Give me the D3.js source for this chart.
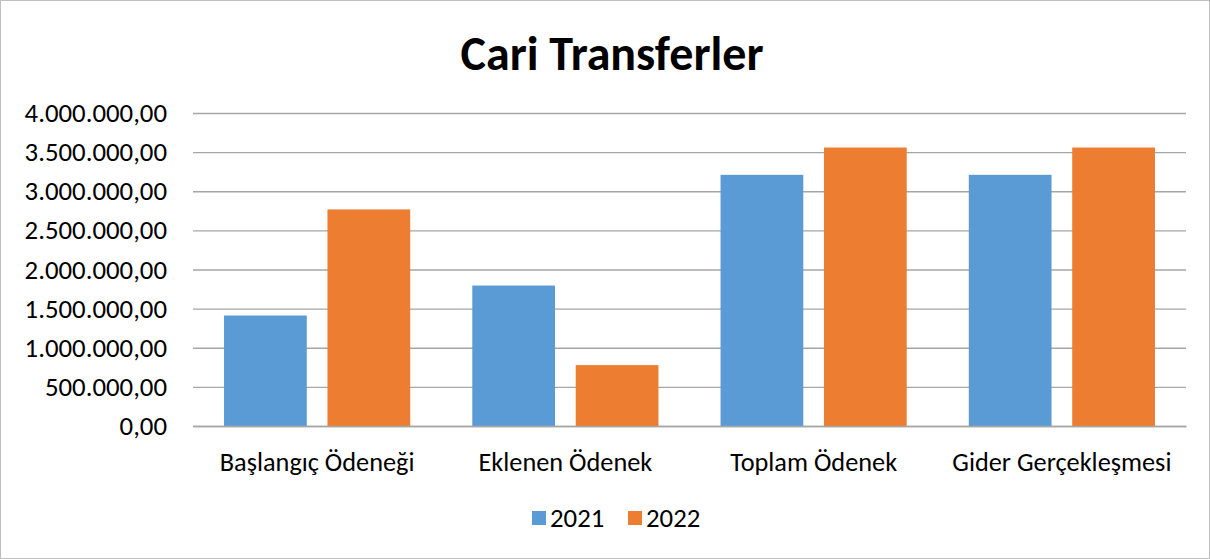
<!DOCTYPE html>
<html><head><meta charset="utf-8">
<script src="https://cdn.jsdelivr.net/npm/d3@7"></script>
<style>body{margin:0;background:#fff}svg{display:block}text{font-family:Carlito,Calibri,"Liberation Sans",Arial,sans-serif;fill:#000}</style>
</head><body><svg id="c" width="1210" height="559"></svg>
<script>
const categories = ["Başlangıç Ödeneği","Eklenen Ödenek","Toplam Ödenek","Gider Gerçekleşmesi"];
const seriesNames = ["2021","2022"];
const values2021 = [1412000, 1795000, 3210000, 3210000];
const values2022 = [2768000, 778000, 3559000, 3559000];
const yTicks = [0,500000,1000000,1500000,2000000,2500000,3000000,3500000,4000000];
const colors = ["#5B9BD5","#ED7D31"];
const FF = 'Carlito,Calibri,"Liberation Sans",Arial,sans-serif';

const svg = d3.select("#c");
svg.append("rect").attr("x",0.5).attr("y",0.5).attr("width",1209).attr("height",558)
  .attr("fill","#fff").attr("stroke","#bfbfbf");

const m = {l:193, r:1186, t:113, b:426};
const x0 = d3.scaleBand().domain(categories).range([m.l,m.r]).paddingInner(0.25).paddingOuter(0.125);
const x1 = d3.scaleBand().domain(seriesNames).range([0,x0.bandwidth()]).paddingInner(0.2);
const y = d3.scaleLinear().domain([0,4000000]).range([m.b,m.t]);

const fmt = v => { const s = d3.format(",.2f")(v); return s.replace(/,/g,"#").replace(/\./g,",").replace(/#/g,"."); };

const yAxis = d3.axisLeft(y).tickValues(yTicks).tickSize(-(m.r-m.l)).tickPadding(26).tickFormat(fmt);
const ga = svg.append("g").attr("transform",`translate(${m.l},0)`).call(yAxis);
ga.select(".domain").remove();
ga.selectAll(".tick line").attr("stroke","#a6a6a6").attr("stroke-width",1.3);
ga.selectAll(".tick text").attr("font-size",26.8).attr("fill","#000").style("font-family",FF);

const data = categories.map((c,i)=>({c, v:[values2021[i], values2022[i]]}));
const g = svg.append("g");
g.selectAll("g").data(data).join("g").attr("transform",d=>`translate(${x0(d.c)},0)`)
 .selectAll("rect").data(d=>d.v.map((v,j)=>({s:seriesNames[j],v,j}))).join("rect")
 .attr("x",d=>x1(d.s)).attr("width",x1.bandwidth())
 .attr("y",d=>y(d.v)).attr("height",d=>y(0)-y(d.v)).attr("fill",d=>colors[d.j]);

const xAxis = d3.axisBottom(x0).tickSize(0).tickPadding(26);
const gx = svg.append("g").attr("transform",`translate(0,${m.b})`).call(xAxis);
gx.select(".domain").attr("stroke","#a6a6a6").attr("stroke-width",1.3);
gx.selectAll(".tick text").attr("font-size",26.3).attr("fill","#000").style("font-family",FF);

svg.append("text").attr("x",612).attr("y",70).attr("text-anchor","middle")
  .attr("font-size",48).attr("font-weight","bold").text("Cari Transferler");

const leg = svg.append("g");
const legX = [532, 628];
seriesNames.forEach((s,i)=>{
  leg.append("rect").attr("x",legX[i]).attr("y",511).attr("width",14).attr("height",14).attr("fill",colors[i]);
  leg.append("text").attr("x",legX[i]+18).attr("y",527).attr("font-size",26.8).text(s);
});
</script></body></html>
